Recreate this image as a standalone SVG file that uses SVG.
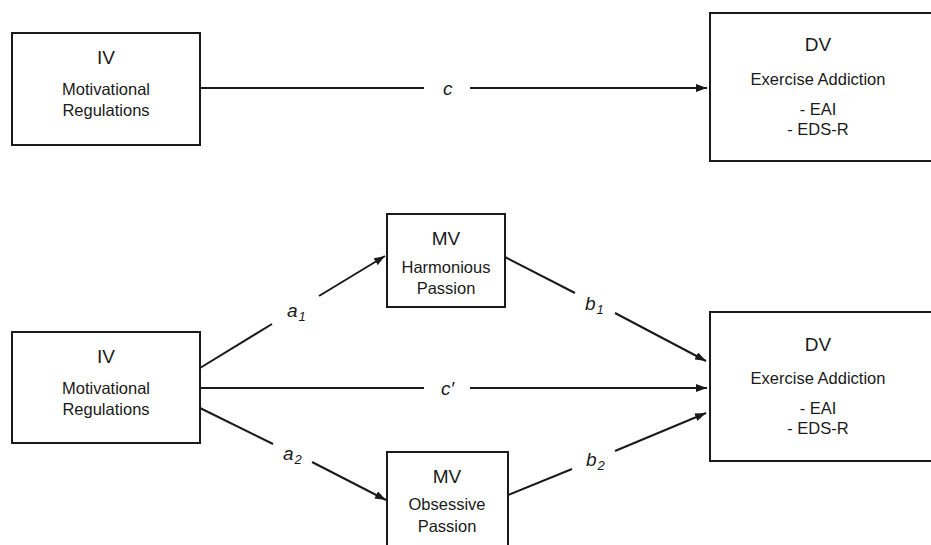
<svg xmlns="http://www.w3.org/2000/svg" width="931" height="545" viewBox="0 0 931 545">
<style>
.box{fill:#fff;stroke:#1a1a1a;stroke-width:2}
.ln{fill:none;stroke:#1a1a1a;stroke-width:2}
.t{font-family:"Liberation Sans",Arial,sans-serif;fill:#1a1a1a;text-anchor:middle}
.h{font-size:19px}
.s{font-size:16.5px}
.lab{font-family:"Liberation Sans",Arial,sans-serif;fill:#1a1a1a;font-style:italic;font-size:19px}
.sub{font-size:13px}
</style>
<defs>
<marker id="arr" markerUnits="userSpaceOnUse" markerWidth="12" markerHeight="8" refX="11" refY="4" orient="auto">
<path d="M0,0 L11,4 L0,8 z" fill="#1a1a1a"/>
</marker>
</defs>
<rect width="931" height="545" fill="#fff"/>
<g id="connectors">
<line class="ln" x1="200" y1="88" x2="424" y2="88"/>
<line class="ln" x1="470" y1="88" x2="707" y2="88" marker-end="url(#arr)"/>
<line class="ln" x1="200" y1="368" x2="272" y2="324"/>
<line class="ln" x1="319" y1="296" x2="385" y2="256" marker-end="url(#arr)"/>
<line class="ln" x1="200" y1="388" x2="424" y2="388"/>
<line class="ln" x1="470" y1="388" x2="707" y2="388" marker-end="url(#arr)"/>
<line class="ln" x1="200" y1="408" x2="273" y2="444"/>
<line class="ln" x1="312" y1="462" x2="386" y2="500" marker-end="url(#arr)"/>
<line class="ln" x1="505" y1="257" x2="575" y2="293"/>
<line class="ln" x1="615" y1="313" x2="706" y2="361" marker-end="url(#arr)"/>
<line class="ln" x1="508" y1="495" x2="572" y2="469"/>
<line class="ln" x1="615" y1="451" x2="706" y2="413" marker-end="url(#arr)"/>
<text class="lab" x="443" y="95">c</text>
<text class="lab" x="441" y="395">c′</text>
<text class="lab" x="287" y="317">a<tspan class="sub" dx="1" dy="4">1</tspan></text>
<text class="lab" x="283" y="460">a<tspan class="sub" dx="1" dy="4">2</tspan></text>
<text class="lab" x="585" y="310">b<tspan class="sub" dx="1" dy="4">1</tspan></text>
<text class="lab" x="586" y="466">b<tspan class="sub" dx="1" dy="4">2</tspan></text>
</g>
<g id="iv-top">
<rect class="box" x="12" y="33" width="188" height="112"/>
<text class="t h" x="106" y="64">IV</text>
<text class="t s" x="106" y="95">Motivational</text>
<text class="t s" x="106" y="116">Regulations</text>
</g>
<g id="dv-top">
<rect class="box" x="710" y="13" width="240" height="148"/>
<text class="t h" x="818" y="51">DV</text>
<text class="t s" x="818" y="85">Exercise Addiction</text>
<text class="t s" x="818" y="115">- EAI</text>
<text class="t s" x="818" y="135">- EDS-R</text>
</g>
<g id="iv-bottom">
<rect class="box" x="12" y="332" width="188" height="111"/>
<text class="t h" x="106" y="363">IV</text>
<text class="t s" x="106" y="394">Motivational</text>
<text class="t s" x="106" y="415">Regulations</text>
</g>
<g id="mv-harmonious">
<rect class="box" x="387" y="214" width="118" height="93"/>
<text class="t h" x="446" y="245">MV</text>
<text class="t s" x="446" y="273">Harmonious</text>
<text class="t s" x="446" y="294">Passion</text>
</g>
<g id="mv-obsessive">
<rect class="box" x="387" y="452" width="121" height="100"/>
<text class="t h" x="447" y="483">MV</text>
<text class="t s" x="447" y="510">Obsessive</text>
<text class="t s" x="447" y="532">Passion</text>
</g>
<g id="dv-bottom">
<rect class="box" x="710" y="312" width="240" height="149"/>
<text class="t h" x="818" y="351">DV</text>
<text class="t s" x="818" y="384">Exercise Addiction</text>
<text class="t s" x="818" y="414">- EAI</text>
<text class="t s" x="818" y="434">- EDS-R</text>
</g>
</svg>
